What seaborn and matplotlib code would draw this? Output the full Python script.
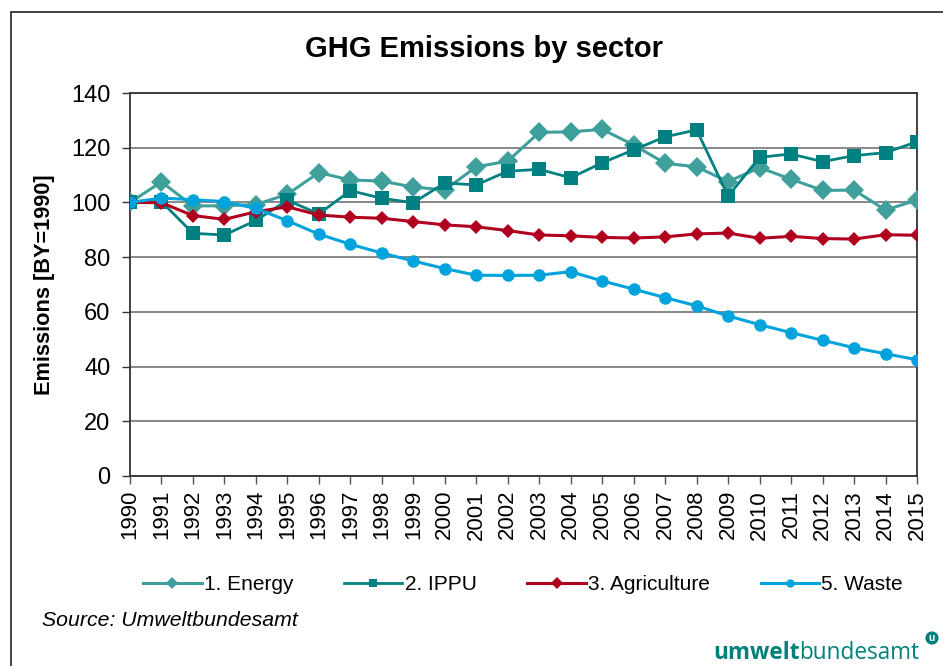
import matplotlib.pyplot as plt
import numpy as np
import pandas as pd
import seaborn as sns
from matplotlib.patches import Rectangle

# %% DATOS
anios = list(range(1990, 2016))
energia = [100, 107.5, 98.7, 98.8, 99.2, 103, 110.9, 108.2, 107.8, 105.6, 104.6, 113, 115.1, 125.6,
           125.8, 126.7, 121, 114.3, 113, 107.6, 112.7, 108.5, 104.4, 104.5, 97.2, 100.9]
ippu = [100, 100.3, 88.7, 88.1, 93.4, 100.8, 95.8, 104.3, 101.5, 99.9, 107.1, 106.4, 111.4, 112.1,
        109, 114.5, 119.2, 124, 126.5, 102.3, 116.5, 117.7, 114.9, 117.1, 118.2, 122.2]
agricultura = [100, 99.9, 95.2, 93.8, 96.6, 98.4, 95.4, 94.6, 94.2, 93, 91.8, 91.1, 89.7, 88.1,
               87.8, 87.2, 87, 87.4, 88.5, 88.8, 86.9, 87.6, 86.8, 86.6, 88.2, 88]
residuos = [100, 101.6, 101, 100.3, 97.8, 93.3, 88.4, 84.7, 81.5, 78.6, 75.8, 73.4, 73.3, 73.4,
            74.7, 71.3, 68.3, 65.2, 62.2, 58.5, 55.3, 52.4, 49.6, 46.9, 44.7, 42.5]

sectores = ["1. Energy", "2. IPPU", "3. Agriculture", "5. Waste"]
colores = ["#3fa09b", "#008080", "#b1001f", "#00a3dc"]
marcadores = ["D", "s", "D", "o"]
tam_marcador = [10, 9.5, 7.5, 9]
ancho_linea = [2.2, 2.0, 2.2, 2.2]

datos = pd.DataFrame({"anio": anios * 4,
                      "valor": energia + ippu + agricultura + residuos,
                      "sector": np.repeat(sectores, len(anios))})

#%% GRAFICO
plt.rcParams['font.family'] = ['Liberation Sans', 'DejaVu Sans']
fig = plt.figure(figsize=(9.43, 6.66), dpi=100)
ax = fig.add_axes([130/943, 1 - 476/666, (917-130)/943, (476-93)/666])

for i, s in enumerate(sectores):
    sns.lineplot(data=datos[datos["sector"] == s], x="anio", y="valor", ax=ax,
                 color=colores[i], marker=marcadores[i], markersize=tam_marcador[i],
                 markeredgewidth=0, linewidth=ancho_linea[i], label=s, zorder=3 + i)

ax.set_xlim(1990, 2015)
ax.set_ylim(0, 140)
ax.set_xticks(anios)
ax.set_xticklabels([str(a) for a in anios], rotation=90, fontsize=16)
ax.set_yticks(range(0, 141, 20))
ax.tick_params(axis="y", labelsize=17, direction="out", length=6, width=1, color="#333333", pad=8)
ax.tick_params(axis="x", direction="out", length=6, width=1, color="#555555", pad=4)
ax.grid(axis="y", color="#7f7f7f", linewidth=1.3, zorder=0)
ax.set_axisbelow(True)
for sp in ax.spines.values():
    sp.set_color("#333333")
    sp.set_linewidth(1.3)

ax.set_xlabel("")
ax.set_ylabel("Emissions [BY=1990]", fontsize=15.7, fontweight="bold")
ax.yaxis.set_label_coords((55 - 130) / 787, 0.5)
ax.get_legend().remove()

fig.text(484/943, 1 - 49/666, "GHG Emissions by sector", fontsize=21, fontweight="bold",
         ha="center", va="center")

handles, labels = ax.get_legend_handles_labels()
leg = fig.legend(handles, labels, loc="center", bbox_to_anchor=(523/943, 1 - 585/666),
                 ncol=4, frameon=False, fontsize=15, handlelength=2.8, handletextpad=0.1,
                 columnspacing=2.45)
for h in leg.legend_handles:
    h.set_markersize(6)

fig.text(42/943, 1 - 620/666, "Source: Umweltbundesamt", fontsize=15.3, style="italic",
         ha="left", va="center")

# logo
t1 = fig.text(713/943, 1 - 659/666, "umwelt", fontsize=16.3, fontweight="bold",
              color="#00807a", ha="left", va="baseline", family="Open Sans")
fig.canvas.draw()
bb = t1.get_window_extent()
fig.text(bb.x1 / 943, 1 - 659/666, "bundesamt", fontsize=16.3, color="#00807a",
         ha="left", va="baseline", family="Open Sans")
fig.text(932/943, 1 - 638/666, "u", fontsize=7.5, fontweight="bold", color="white",
         ha="center", va="center",
         bbox=dict(boxstyle="circle,pad=0.15", fc="#00807a", ec="none"))

# marco
fig.patches.append(Rectangle((11/943, -0.05), 1.0, 1 - 12/666 + 0.05, transform=fig.transFigure,
                             fill=False, edgecolor="#222222", linewidth=1.2))

fig.savefig("out.png", dpi=100)
